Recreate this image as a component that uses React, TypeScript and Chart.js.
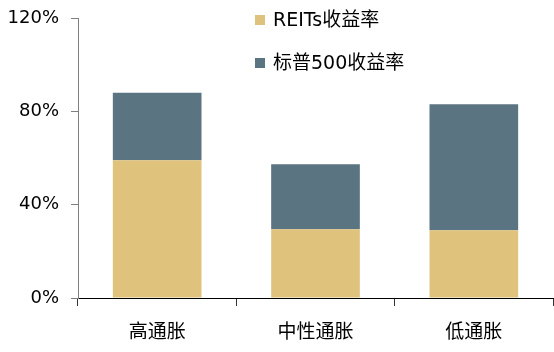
import React, { useEffect, useRef } from "react";
import { Chart, registerables } from "chart.js";

Chart.register(...registerables);

const categories = ["高通胀", "中性通胀", "低通胀"];
const reitsReturns = [59, 29.5, 29];
const sp500Returns = [29, 27.8, 54];
const yTicks = [0, 40, 80, 120];
const seriesNames = ["REITs收益率", "标普500收益率"];
const seriesColors = ["#DFC37D", "#5B7481"];

const FONT = "'DejaVu Sans', 'Noto Sans CJK SC', sans-serif";

const legendPlugin = {
  id: "customLegend",
  afterDraw(chart: any) {
    const ctx = chart.ctx;
    ctx.save();
    chart.data.datasets.forEach((ds: any, i: number) => {
      const y = 20 + i * 43;
      ctx.fillStyle = ds.backgroundColor;
      ctx.fillRect(255, y - 5, 10, 10);
      ctx.fillStyle = "#000";
      ctx.font = `19px ${FONT}`;
      ctx.textBaseline = "middle";
      ctx.textAlign = "left";
      ctx.fillText(ds.label, 273, y + 1);
    });
    ctx.restore();
  },
};

export default function App() {
  const ref = useRef<HTMLCanvasElement>(null);
  useEffect(() => {
    document.body.style.margin = "0";
    const chart = new Chart(ref.current!, {
      type: "bar",
      data: {
        labels: categories,
        datasets: [
          { label: seriesNames[0], data: reitsReturns, backgroundColor: seriesColors[0], borderWidth: 0 },
          { label: seriesNames[1], data: sp500Returns, backgroundColor: seriesColors[1], borderWidth: 0 },
        ],
      },
      options: {
        animation: false,
        responsive: false,
        maintainAspectRatio: false,
        layout: { padding: { top: 18, right: 1, left: 0, bottom: 0 } },
        datasets: { bar: { categoryPercentage: 1, barPercentage: 0.56 } },
        plugins: { legend: { display: false }, tooltip: { enabled: false } },
        scales: {
          x: {
            stacked: true,
            grid: {
              display: true,
              offset: true,
              drawOnChartArea: false,
              drawTicks: true,
              tickLength: 8,
              color: "#333",
            },
            border: { display: true, color: "#000", width: 1 },
            ticks: { color: "#000", font: { family: FONT, size: 19 }, padding: 16 },
            afterFit: (s: any) => {
              s.height = 54;
              s.paddingLeft = 0;
              s.paddingRight = 0;
            },
          },
          y: {
            stacked: true,
            min: 0,
            max: 120,
            afterBuildTicks: (s: any) => {
              s.ticks = yTicks.map((v) => ({ value: v }));
            },
            grid: {
              display: true,
              drawOnChartArea: false,
              drawTicks: true,
              tickLength: 7,
              color: "#808080",
            },
            border: { display: true, color: "#808080", width: 1 },
            ticks: {
              color: "#000",
              font: { family: FONT, size: 18 },
              padding: 12,
              callback: (v: any) => v + "%",
            },
            afterFit: (s: any) => {
              s.width = 78;
              s.paddingTop = 0;
              s.paddingBottom = 0;
            },
          },
        },
      },
      plugins: [legendPlugin],
    });
    return () => chart.destroy();
  }, []);
  return (
    <div style={{ position: "absolute", left: 0, top: 0, width: 554, height: 352 }}>
      <canvas ref={ref} width={554} height={352} style={{ width: 554, height: 352 }} />
    </div>
  );
}
